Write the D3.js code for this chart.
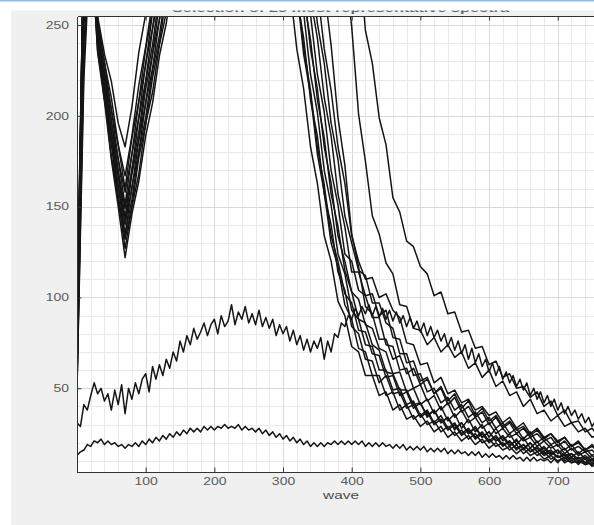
<!DOCTYPE html>
<html>
<head>
<meta charset="utf-8">
<script src="https://cdn.jsdelivr.net/npm/d3@7"></script>
<style>
  body { margin: 0; background: #fff; }
  svg { display: block; }
  text { font-family: "Liberation Sans", Arial, Helvetica, sans-serif; }
</style>
</head>
<body>
<svg id="chart" width="594" height="525"></svg>
<script>
// ---- labels and ticks ----
const titleText = "Selection of 25 most representative spectra";
const xLabel = "wave";
const xTicks = [100, 200, 300, 400, 500, 600, 700];
const yTicks = [50, 100, 150, 200, 250];

// ---- sampling grids (wave positions) ----
const waveStep10 = d3.range(0, 780, 10);   // 78 samples
const waveStep5 = d3.range(0, 775, 5);     // 155 samples

// ---- bright spectra (values above 255 are saturated, off the axis) ----
const spec01 = [60,300,300,255,234,219,196,183,205,235,256,286,300,
  300,300,300,300,300,300,300,300,300,300,
  300,300,300,300,300,300,300,300,300,300,
  300,300,300,300,300,300,300,300,
  292,247,229,199,184,155,147,131,128,117,113,101,103,91,92,81,82,72,73,63,
  65,56,58,50,51,45,48,40,43,35,38,31,32,26,28,23,24];
const spec02 = [48,260,300,253,229,210,184,167,189,217,238,263,290,
  300,300,300,300,300,300,300,300,300,300,
  300,300,300,300,300,300,300,300,300,300,
  300,300,300,300,300,300,
  283,249,201,175,145,135,119,113,96,95,83,82,74,78,70,74,67,70,61,64,
  56,60,51,54,46,48,40,44,36,38,32,35,29,31,26,28,23,25,22];
const spec03 = [72,300,300,250,230,203,184,160,188,208,237,258,287,300,
  300,300,300,300,300,300,300,300,300,300,
  300,300,300,300,300,300,300,300,300,300,300,
  270,237,214,183,163,134,120,110,111,100,102,93,89,75,74,63,64,53,56,47,
  49,42,44,38,40,35,37,31,34,28,31,25,28,23,25,21,23,18,20,16,18,15,15];
const spec04 = [55,240,300,252,224,204,176,158,179,208,228,257,278,300,
  300,300,300,300,300,300,300,300,300,300,
  300,300,300,300,300,300,300,300,300,300,300,300,
  270,239,199,173,135,117,95,91,77,77,66,68,58,61,52,55,47,51,43,47,
  39,43,35,39,32,35,29,32,27,29,24,27,22,25,20,23,18,21,16,19,15,16];
const spec05 = [80,300,300,246,225,197,176,151,179,199,229,248,278,298,300,
  300,300,300,300,300,300,300,300,300,300,
  300,300,300,300,300,300,300,300,300,
  265,243,210,189,157,139,114,114,101,102,90,93,78,77,64,65,54,56,47,50,
  41,45,37,40,34,37,30,34,28,31,25,28,23,25,21,23,18,21,16,18,15,16,12,14];
const spec06 = [66,280,300,249,220,198,169,149,170,199,219,248,268,296,300,
  300,300,300,300,300,300,300,300,300,300,
  300,300,300,300,300,300,300,300,300,
  286,251,229,196,176,145,130,115,112,97,97,86,83,69,69,57,58,48,50,42,
  45,38,41,34,37,31,34,28,31,25,28,22,26,20,23,19,21,16,19,14,17,13,15,11];
const spec07 = [52,230,300,243,221,192,170,144,171,191,219,239,267,286,300,
  300,300,300,300,300,300,300,300,300,300,
  300,300,300,300,300,300,300,300,
  281,256,223,202,170,151,124,120,104,101,89,89,74,73,60,61,50,52,43,46,
  38,42,34,38,31,34,28,31,25,28,23,25,21,23,18,21,17,19,14,17,13,15,11,13,10];
const spec08 = [90,300,300,242,220,190,167,140,168,187,215,234,262,281,300,
  300,300,300,300,300,300,300,300,300,300,
  300,300,300,300,300,300,300,
  266,243,209,189,157,140,114,104,84,80,66,65,53,57,47,48,39,41,34,37,
  30,33,27,30,24,27,22,25,20,23,18,21,16,19,15,17,13,15,12,13,10,12,9,11,8,9];
const spec09 = [58,250,300,246,215,192,161,141,160,187,207,234,253,280,300,
  300,300,300,300,300,300,300,300,300,300,
  300,300,300,300,300,300,300,300,
  271,237,215,183,163,134,120,103,99,85,83,72,70,58,59,48,50,41,44,36,
  40,32,36,28,33,26,30,23,28,21,25,19,23,17,21,15,19,14,17,12,15,11,13,9,12];
const spec10 = [75,300,300,239,216,185,162,134,161,180,207,226,253,272,300,
  300,300,300,300,300,300,300,300,300,300,
  300,300,300,300,300,300,300,300,
  265,242,209,188,157,139,115,103,88,86,74,71,59,58,49,49,41,42,35,38,
  31,34,28,31,25,28,23,26,21,24,19,21,17,20,15,18,14,16,13,14,11,13,10,11,8];
const spec11 = [63,270,300,243,211,188,156,135,154,180,199,225,244,271,300,
  300,300,300,300,300,300,300,300,300,300,
  300,300,300,300,300,300,300,
  270,238,214,183,162,134,120,102,97,82,81,69,68,56,57,46,48,39,42,34,
  38,31,34,27,31,25,29,23,26,21,23,18,22,16,20,15,17,13,16,11,14,10,12,9,11,8];
const spec12 = [85,300,300,240,209,185,153,132,150,177,195,221,240,266,300,
  300,300,300,300,300,300,300,300,300,300,
  300,300,300,300,300,300,300,
  282,257,223,202,170,151,124,113,93,88,74,73,60,60,49,50,41,43,35,38,
  31,35,28,31,25,28,23,26,21,24,19,21,17,19,15,18,14,16,12,14,11,12,9,11,8,10];
const spec13 = [50,220,300,236,211,178,155,127,150,168,196,213,239,257,285,300,
  300,300,300,300,300,300,300,300,300,300,
  300,300,300,300,300,
  296,270,234,212,179,158,130,117,96,88,72,70,57,57,46,48,38,41,33,36,
  30,32,26,29,24,27,22,25,20,22,18,20,16,19,14,17,13,15,11,13,10,12,9,11,7,9,7];
const spec14 = [70,290,300,235,208,176,150,122,146,164,189,207,233,251,277,300,
  300,300,300,300,300,300,300,300,300,300,
  300,300,300,300,300,
  271,237,215,183,163,134,120,98,90,73,70,57,57,46,48,38,41,33,35,29,
  32,26,29,23,26,21,24,19,22,17,20,16,18,14,17,13,15,11,13,10,12,9,10,8,9,7,8];

// ---- weak spectra, sampled every 5 ----
const humpSpectrum = [
  31,29,41,38,46,53,47,50,43,47,
  38,49,41,52,36,50,44,53,47,55,
  58,48,62,55,63,57,66,61,70,65,
  76,70,79,74,83,77,81,86,79,85,
  88,80,90,84,87,96,85,92,88,95,
  86,91,85,93,84,89,83,88,79,85,
  80,84,76,82,74,79,71,77,70,76,
  72,78,66,76,70,80,78,86,84,90,
  88,94,90,95,91,96,90,95,89,94,
  88,93,87,92,86,90,84,89,83,87,
  81,86,79,84,78,82,76,80,73,78,
  71,76,69,74,66,72,64,69,62,66,
  59,64,57,62,55,59,53,57,51,55,
  49,53,46,50,44,48,42,46,40,44,
  38,42,36,40,35,38,33,36,31,34,
  29,32,27,30,26];
const baseSpectrum = [
  13,15,16,19,18,21,20,22,19,21,
  19,20,18,19,17,19,18,20,18,21,
  19,22,20,23,21,24,22,25,23,26,
  24,27,25,28,26,28,26,29,27,29,
  27,29,28,30,28,29,28,30,27,29,
  27,28,26,28,25,27,24,26,23,25,
  22,24,21,23,20,22,19,21,18,20,
  18,20,18,20,19,21,19,21,19,21,
  19,21,19,21,18,20,18,20,18,20,
  18,19,17,19,17,19,16,18,16,18,
  16,18,15,17,15,17,15,17,14,16,
  14,16,14,15,13,15,13,15,12,14,
  12,14,12,13,11,13,11,13,11,12,
  10,12,10,12,10,11,10,11,9,11,
  9,11,9,10,9,10,8,10,8,9,
  8,9,8,9,8];

const brightSpectra = [spec01, spec02, spec03, spec04, spec05, spec06, spec07,
                       spec08, spec09, spec10, spec11, spec12, spec13, spec14];

// ---- layout ----
const svg = d3.select("#chart");
const W = 594, H = 525;

const x = d3.scaleLinear().domain([0, 800]).range([77, 626.4]);
const y = d3.scaleLinear().domain([3.9, 255]).range([472, 16]);
const [px0, px1] = x.range();
const [py1, py0] = y.range();

// figure background
svg.append("rect").attr("width", W).attr("height", H).attr("fill", "#fff");
svg.append("rect").attr("x", 0).attr("y", 0).attr("width", W).attr("height", 1.5).attr("fill", "#8fbbe8");
svg.append("rect").attr("x", 11).attr("y", 10.5).attr("width", W - 11).attr("height", H - 10.5).attr("fill", "#f0f0f0");

// title, only its lower part shows below the window edge
const defs = svg.append("defs");
defs.append("clipPath").attr("id", "titleClip")
  .append("rect").attr("x", 0).attr("y", 10.5).attr("width", W).attr("height", 10);
defs.append("clipPath").attr("id", "plotClip")
  .append("rect").attr("x", px0).attr("y", py0).attr("width", px1 - px0).attr("height", py1 - py0);

svg.append("text")
  .attr("clip-path", "url(#titleClip)")
  .attr("x", 340.5).attr("y", 12.2)
  .attr("text-anchor", "middle")
  .attr("font-size", 11).attr("font-weight", "bold")
  .attr("fill", "#666")
  .attr("textLength", 337).attr("lengthAdjust", "spacingAndGlyphs")
  .text(titleText);

// axes background
svg.append("rect").attr("x", px0).attr("y", py0).attr("width", px1 - px0).attr("height", py1 - py0).attr("fill", "#fff");

// grid
const grid = svg.append("g").attr("shape-rendering", "crispEdges");
const xMinor = d3.range(20, 800, 20).filter(v => v % 100 !== 0);
const yMinor = d3.range(10, 255, 10).filter(v => v % 50 !== 0);
grid.selectAll("line.xm").data(xMinor).join("line")
  .attr("x1", d => Math.round(x(d)) + 0.5).attr("x2", d => Math.round(x(d)) + 0.5)
  .attr("y1", py0).attr("y2", py1).attr("stroke", "#e9e9e9");
grid.selectAll("line.ym").data(yMinor).join("line")
  .attr("x1", px0).attr("x2", px1)
  .attr("y1", d => Math.round(y(d)) + 0.5).attr("y2", d => Math.round(y(d)) + 0.5).attr("stroke", "#e9e9e9");
grid.selectAll("line.xM").data(xTicks).join("line")
  .attr("x1", d => Math.round(x(d)) + 0.5).attr("x2", d => Math.round(x(d)) + 0.5)
  .attr("y1", py0).attr("y2", py1).attr("stroke", "#d9d9d9");
grid.selectAll("line.yM").data(yTicks).join("line")
  .attr("x1", px0).attr("x2", px1)
  .attr("y1", d => Math.round(y(d)) + 0.5).attr("y2", d => Math.round(y(d)) + 0.5).attr("stroke", "#d9d9d9");

// spectra
const plot = svg.append("g").attr("clip-path", "url(#plotClip)");
const line = d3.line().x(d => x(d[0])).y(d => y(d[1]));

plot.selectAll("path.bright").data(brightSpectra).join("path")
  .attr("fill", "none").attr("stroke", "#151515").attr("stroke-width", 1.5)
  .attr("stroke-linejoin", "round")
  .attr("d", s => line(waveStep10.map((w, i) => [w, s[i]])));

plot.selectAll("path.weak").data([humpSpectrum, baseSpectrum]).join("path")
  .attr("fill", "none").attr("stroke", "#151515").attr("stroke-width", 1.5)
  .attr("stroke-linejoin", "round")
  .attr("d", s => line(waveStep5.map((w, i) => [w, s[i]])));

// axes
const axisColor = "#333";
const stretch = 1.4;

const gx = svg.append("g").attr("transform", `translate(0,${py1})`)
  .call(d3.axisBottom(x).tickValues(xTicks).tickSizeInner(-4.5).tickSizeOuter(0).tickPadding(6));
const gy = svg.append("g").attr("transform", `translate(${px0},0)`)
  .call(d3.axisLeft(y).tickValues(yTicks).tickSizeInner(-4.5).tickSizeOuter(0).tickPadding(8 / stretch));
const gt = svg.append("g").attr("transform", `translate(0,${py0})`)
  .call(d3.axisTop(x).tickValues(xTicks).tickSizeInner(-4.5).tickSizeOuter(0).tickFormat(""));

[gx, gy, gt].forEach(g => {
  g.attr("font-size", 10).attr("font-family", null);
  g.select(".domain").attr("stroke", axisColor).attr("shape-rendering", "crispEdges");
  g.selectAll(".tick line").attr("stroke", axisColor);
  g.selectAll(".tick text").attr("fill", "#5a5a5a").attr("transform", `scale(${stretch},1)`);
});

// x label
svg.append("text")
  .attr("transform", `translate(341,499) scale(${stretch},1)`)
  .attr("text-anchor", "middle")
  .attr("font-size", 11).attr("fill", "#4a4a4a")
  .text(xLabel);
</script>
</body>
</html>
